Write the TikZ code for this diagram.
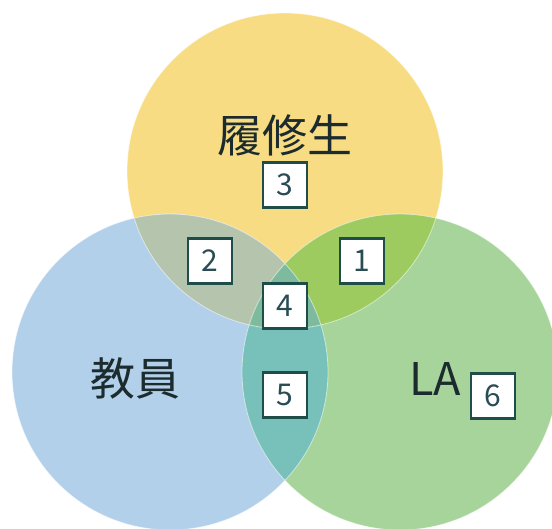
\documentclass[tikz,border=0pt]{standalone}
\usepackage{fontspec}
\setmainfont{Noto Sans CJK JP}
\usepackage{tikz}
\usetikzlibrary{positioning}
\definecolor{vnyellow}{HTML}{F8DC84}
\definecolor{vnblue}{HTML}{B3D0EA}
\definecolor{vngreen}{HTML}{A6D49A}
\definecolor{vnyb}{HTML}{B5C4AD}
\definecolor{vnyg}{HTML}{9DCB5F}
\definecolor{vnbg}{HTML}{78C1BB}
\definecolor{vnybg}{HTML}{7EBB9E}
\definecolor{vnframe}{HTML}{1E4D4A}
\definecolor{vntext}{HTML}{1C2B2E}
\definecolor{vndigit}{HTML}{2A4C55}

\begin{document}
\begin{tikzpicture}[x=1pt,y=-1pt,
  numbox/.style={draw=vnframe,line width=2.3pt,fill=white,minimum width=44pt,minimum height=45pt,inner sep=0pt,text=vndigit,font=\fontsize{30}{30}\selectfont},
  setname/.style={text=vntext,inner sep=0pt,font=\fontsize{45}{45}\selectfont},
  rim/.style={draw=white,draw opacity=0.55,line width=0.8pt}]
  \clip (0,0) rectangle (552,529);
  \coordinate (cy) at (285,171);
  \coordinate (cb) at (170,372);
  \coordinate (cg) at (400,372);
  % circles
  \fill[vnyellow] (cy) circle[radius=158pt];
  \fill[vnblue] (cb) circle[radius=158pt];
  \fill[vngreen] (cg) circle[radius=158pt];
  \begin{scope}
    \clip (cb) circle[radius=158pt];
    \fill[vnbg] (cg) circle[radius=158pt];
  \end{scope}
  \begin{scope}
    \clip (cy) circle[radius=158pt];
    \fill[vnyb] (cb) circle[radius=158pt];
    \fill[vnyg] (cg) circle[radius=158pt];
    \clip (cb) circle[radius=158pt];
    \fill[vnybg] (cg) circle[radius=158pt];
  \end{scope}
  \draw[rim] (cy) circle[radius=158pt];
  \draw[rim] (cb) circle[radius=158pt];
  \draw[rim] (cg) circle[radius=158pt];
  % labels
  \node[setname] (student) at (285,135) {履修生};
  \node[setname] (teacher) at (135,378) {教員};
  \node[setname] (la) at (435,379) {LA};
  \node[numbox] (n1) at (362,261) {1};
  \node[numbox] (n2) at (210,261) {2};
  \node[numbox] (n3) at (285,185) {3};
  \node[numbox] (n4) at (285,306) {4};
  \node[numbox] (n5) at (285,395) {5};
  \node[numbox] (n6) at (493,396) {6};
\end{tikzpicture}
\end{document}
